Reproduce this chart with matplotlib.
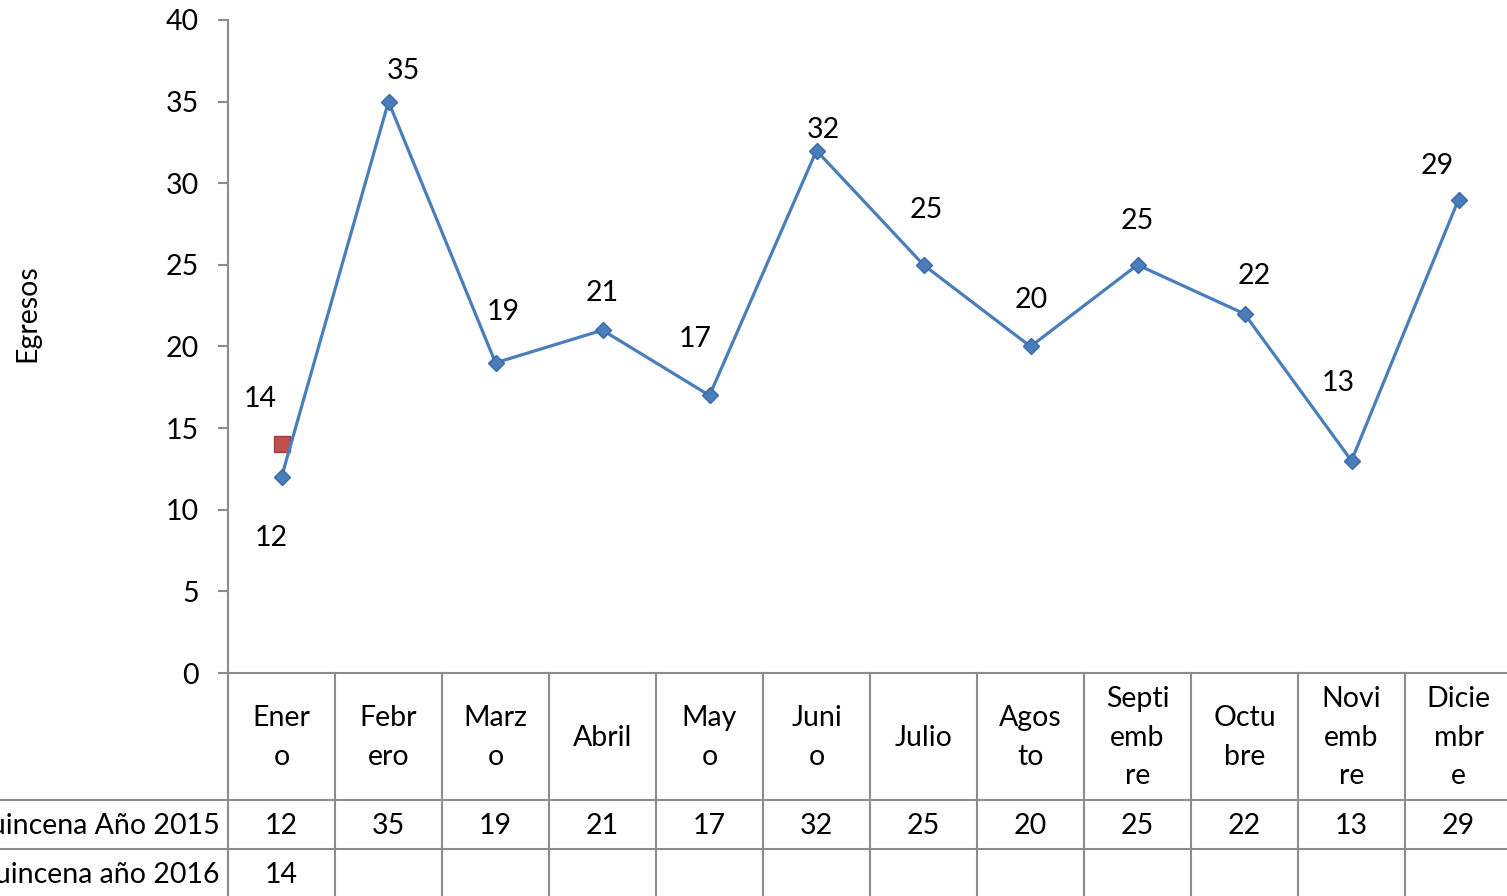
import matplotlib
matplotlib.use("Agg")
import matplotlib.pyplot as plt
import numpy as np

plt.rcParams["font.family"] = ["Lato", "DejaVu Sans"]
FS = 20.5
GRID = "#8c8c8c"
BLUE, BLUE_EDGE, RED = "#4a7ebb", "#3a6aa6", "#c0504d"

# data
months = ["Ener\no", "Febr\nero", "Marz\no", "Abril", "May\no", "Juni\no",
          "Julio", "Agos\nto", "Septi\nemb\nre", "Octu\nbre", "Novi\nemb\nre",
          "Dicie\nmbr\ne"]
series_names = ["Quincena Año 2015", "Quincena año 2016"]
egresos_2015 = [12, 35, 19, 21, 17, 32, 25, 20, 25, 22, 13, 29]
egresos_2016 = [14]

# label offsets (pixels) for the data labels
off_2015 = [(-10, -61), (15, 31), (8, 51), (0, 37), (-14, 56), (7, 21),
            (3, 55), (1, 46), (0, 44), (10, 38), (-13, 78), (-21, 34)]
off_2016 = [(-21, 45)]

W, H = 1507, 896
fig = plt.figure(figsize=(W / 100, H / 100), dpi=100)
fig.patch.set_facecolor("white")

left, right, top, base = 228, 1512, 20, 673
ax = fig.add_axes([left / W, (H - base) / H, (right - left) / W, (base - top) / H])
n = len(months)
x = np.arange(n)

ax.plot(x[:len(egresos_2016)], egresos_2016, ls="none", marker="s", ms=11,
        mfc=RED, mec="#a03c3a", zorder=2)
ax.plot(x, egresos_2015, color=BLUE, lw=2.3, marker="D", ms=8,
        mfc=BLUE, mec=BLUE_EDGE, zorder=3)

for xi, v, (dx, dy) in zip(x, egresos_2015, off_2015):
    ax.annotate(str(v), (xi, v), xytext=(dx, dy), textcoords="offset pixels",
                ha="center", va="center", fontsize=FS)
for xi, v, (dx, dy) in zip(x, egresos_2016, off_2016):
    ax.annotate(str(v), (xi, v), xytext=(dx, dy), textcoords="offset pixels",
                ha="center", va="center", fontsize=FS)

ax.set_xlim(-0.5, n - 0.5)
ax.set_ylim(0, 40)
ax.set_yticks(np.arange(0, 41, 5))
ax.tick_params(axis="y", length=7.2, width=1.5, color=GRID, pad=14, labelsize=FS)
ax.set_xticks([])
for s in ("top", "right"):
    ax.spines[s].set_visible(False)
for s in ("left", "bottom"):
    ax.spines[s].set_color(GRID)
    ax.spines[s].set_linewidth(1.5)
fig.text(27 / W, 1 - 313 / H, "Egresos", rotation=90, ha="center", va="center",
         fontsize=FS)

# data table below the plot
hdr, row = 127, 49
tab = fig.add_axes([left / W, (H - (base + hdr + 2 * row)) / H,
                    (right - left) / W, (hdr + 2 * row) / H])
tab.set_xlim(-0.5, n - 0.5)
tab.set_ylim(hdr + 2 * row, 0)
tab.axis("off")
x_far = -0.5 - left / 107.0 - 0.5
for yy in (hdr, hdr + row):
    tab.plot([x_far, n - 0.5], [yy, yy], color=GRID, lw=1.5, clip_on=False)
for k in range(n + 1):
    tab.plot([k - 0.5, k - 0.5], [0, hdr + 2 * row], color=GRID, lw=1.5,
             clip_on=False)
for xi, m in zip(x, months):
    tab.text(xi, hdr / 2 + 1, m, ha="center", va="center", fontsize=FS,
             linespacing=1.6)
rows = [egresos_2015, egresos_2016]
for r, (name, vals) in enumerate(zip(series_names, rows)):
    yc = hdr + row * r + row / 2 + 1
    tab.text(-0.5 - 8 / 107, yc, name, ha="right", va="center", fontsize=FS,
             clip_on=False)
    for xi, v in zip(x, vals):
        tab.text(xi, yc, str(v), ha="center", va="center", fontsize=FS)

fig.savefig("out.png", dpi=100)
